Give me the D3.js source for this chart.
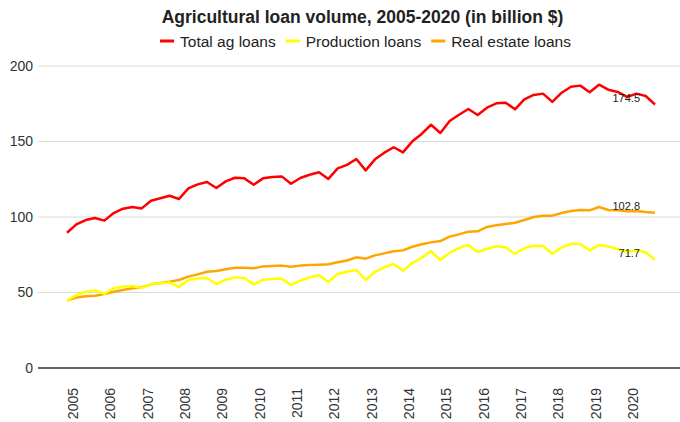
<!DOCTYPE html>
<html>
<head>
<meta charset="utf-8">
<script src="https://cdn.jsdelivr.net/npm/d3@7"></script>
<style>
  body { margin: 0; background: #fff; }
  svg { display: block; font-family: "Liberation Sans", Arial, sans-serif; }
</style>
</head>
<body>
<svg id="chart" width="680" height="422"></svg>
<script>
const years = ["2005","2006","2007","2008","2009","2010","2011","2012","2013","2014","2015","2016","2017","2018","2019","2020"];
const quarters = ["Q1","Q2","Q3","Q4"];
const seriesNames = ["Total ag loans", "Production loans", "Real estate loans"];
const totalLoans = [89.6,95.1,98,99.3,97.6,102.6,105.5,106.6,105.7,110.8,
  112.4,114.1,111.9,119,121.6,123.2,119.2,123.6,126,125.6,
  121.4,125.6,126.5,126.9,122,125.8,128,129.6,125.2,132.2,
  134.5,138.4,130.9,138.2,142.6,146.2,142.8,150.1,155,161.1,
  155.6,163.6,167.7,171.5,167.5,172.4,175.3,175.7,171.3,177.9,
  180.8,181.7,176.2,182.3,186.3,187,182.6,187.6,184.3,182.8,
  179.5,181.7,180.1,174.5];
const productionLoans = [44.6,48.3,50.5,51.4,49.2,52.8,53.9,54.3,53,55.6,
  56.1,56.7,53.6,58.3,59.2,59.6,55.6,58.5,60,59.6,
  55.4,58.5,58.9,59.2,55,57.8,60,61.4,57,62.3,
  63.8,64.9,58.3,63.6,66.7,68.9,64.4,69.5,73,77.5,
  71.5,76.4,79.5,81.5,76.8,79,80.6,79.9,75.5,79.5,
  81,80.8,75.7,79.9,82.1,82.1,77.9,81.5,80.4,78.8,
  76.8,77.9,76.6,71.7];
const realEstateLoans = [44.6,46.6,47.5,47.9,49,50.5,51.7,52.8,53.4,55.4,
  56.3,57.2,58.3,60.5,62,63.7,64.2,65.4,66.4,66.4,
  66,67.3,67.5,67.8,67.1,67.8,68.2,68.4,68.7,70,
  71.2,73.3,72.4,74.6,75.9,77.3,77.9,80.3,81.9,83.2,
  84.1,87,88.5,90.3,90.5,93.4,94.5,95.4,96.2,98,
  100,100.9,100.9,102.6,104,104.6,104.4,106.6,104.6,104.4,
  103.8,104,103.3,102.8];
const yTicks = [0, 50, 100, 150, 200];
const colors = ["#ff0000", "#ffff00", "#ffa500"];

const periods = [];
years.forEach(y => quarters.forEach(q => periods.push(y + " " + q)));

const series = [
  {name: seriesNames[0], values: totalLoans, color: colors[0]},
  {name: seriesNames[1], values: productionLoans, color: colors[1]},
  {name: seriesNames[2], values: realEstateLoans, color: colors[2]}
];

const svg = d3.select("#chart");
const plotLeft = 38, plotRight = 680;

const x = d3.scalePoint().domain(periods).range([67, 655]);
const y = d3.scaleLinear().domain([0, 200]).range([368, 66]);

// gridlines
svg.append("g").selectAll("line")
  .data(yTicks.filter(d => d !== 0))
  .join("line")
  .attr("x1", plotLeft).attr("x2", plotRight)
  .attr("y1", d => y(d)).attr("y2", d => y(d))
  .attr("stroke", "#d9d9d9").attr("stroke-width", 1);

// y axis labels
const yAxis = d3.axisLeft(y).tickValues(yTicks).tickSize(0).tickPadding(0);
const yg = svg.append("g").attr("transform", `translate(33,0)`).call(yAxis);
yg.select(".domain").remove();
yg.selectAll("text").attr("font-size", 14).attr("fill", "#333").attr("font-family", "Liberation Sans, Arial, sans-serif");

// zero line
svg.append("line")
  .attr("x1", plotLeft).attr("x2", plotRight)
  .attr("y1", y(0)).attr("y2", y(0))
  .attr("stroke", "#333").attr("stroke-width", 1.6);

// x axis labels
const yearTicks = years.map(yr => yr + " Q1");
const xAxis = d3.axisBottom(x).tickValues(yearTicks).tickSize(0).tickFormat(d => d.slice(0, 4));
const xg = svg.append("g").attr("transform", `translate(0,${y(0)})`).call(xAxis);
xg.select(".domain").remove();
xg.selectAll("text")
  .attr("transform", "rotate(-90)")
  .attr("text-anchor", "end")
  .attr("x", -20)
  .attr("y", 5.5)
  .attr("dy", "0.35em")
  .attr("font-size", 14)
  .attr("fill", "#333")
  .attr("font-family", "Liberation Sans, Arial, sans-serif");

// lines
const line = d3.line().x((d, i) => x(periods[i])).y(d => y(d));
svg.append("g").selectAll("path")
  .data(series.slice().reverse())
  .join("path")
  .attr("d", d => line(d.values))
  .attr("fill", "none")
  .attr("stroke", d => d.color)
  .attr("stroke-width", 2.5)
  .attr("stroke-linejoin", "round");

// end labels
svg.append("g").selectAll("text")
  .data(series)
  .join("text")
  .attr("x", x(periods[periods.length - 1]) - 15)
  .attr("y", d => y(d.values[d.values.length - 1]) - 3)
  .attr("text-anchor", "end")
  .attr("font-size", 11)
  .attr("fill", "#222")
  .text(d => d.values[d.values.length - 1].toFixed(1));

// title
svg.append("text")
  .attr("x", 362.5).attr("y", 23)
  .attr("text-anchor", "middle")
  .attr("font-size", 17.5)
  .attr("font-weight", "bold")
  .attr("fill", "#222")
  .text("Agricultural loan volume, 2005-2020 (in billion $)");

// legend
const lg = svg.append("g");
const items = lg.selectAll("g").data(series).join("g");
items.append("line")
  .attr("x1", 0).attr("x2", 14).attr("y1", 0).attr("y2", 0)
  .attr("stroke", d => d.color).attr("stroke-width", 3);
items.append("text")
  .attr("x", 20).attr("y", 5.5)
  .attr("font-size", 15.5)
  .attr("fill", "#222")
  .text(d => d.name);
let cx = 0;
items.each(function() {
  const g = d3.select(this);
  g.attr("transform", `translate(${cx},0)`);
  const w = 20 + g.select("text").node().getComputedTextLength();
  cx += w + 10;
});
const totalW = cx - 10;
lg.attr("transform", `translate(${365.5 - totalW / 2},41)`);
</script>
</body>
</html>
